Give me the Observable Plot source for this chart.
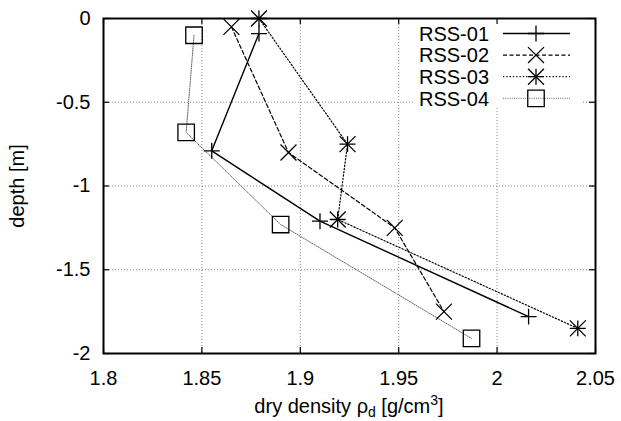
<!DOCTYPE html>
<html><head><meta charset="utf-8">
<script src="https://cdn.jsdelivr.net/npm/d3@7"></script>
<script src="https://cdn.jsdelivr.net/npm/@observablehq/plot@0.6"></script>
<style>
body{margin:0;background:#fff}
svg{font-family:"Liberation Sans",Arial,sans-serif}
</style>
</head><body><div id="chart"></div>
<script>
// ---- data ----
const seriesNames = ["RSS-01", "RSS-02", "RSS-03", "RSS-04"];
const density01 = [1.879, 1.855, 1.910, 2.016];
const depth01   = [-0.09, -0.79, -1.21, -1.78];
const density02 = [1.865, 1.894, 1.948, 1.973];
const depth02   = [-0.05, -0.80, -1.25, -1.75];
const density03 = [1.879, 1.924, 1.919, 2.041];
const depth03   = [0.00, -0.75, -1.20, -1.85];
const density04 = [1.846, 1.842, 1.890, 1.987];
const depth04   = [-0.10, -0.68, -1.23, -1.91];
const xTicks = [1.8, 1.85, 1.9, 1.95, 2, 2.05];
const yTicks = [0, -0.5, -1, -1.5, -2];
const xLabelParts = ["dry density ρ", "d", " [g/cm", "3", "]"];
const yLabel = "depth [m]";

// ---- build ----
const densities = [density01, density02, density03, density04];
const depths = [depth01, depth02, depth03, depth04];
const rows = seriesNames.map((s, i) => densities[i].map((x, j) => ({series: s, x, y: depths[i][j]})));

const W = 621, H = 421, mL = 103, mR = 26, mT = 18, mB = 68;
const fw = W - mL - mR, fh = H - mT - mB;
const FS = 20;

const styles = [
  {stroke: "#000", strokeWidth: 1.4, dash: null},
  {stroke: "#000", strokeWidth: 1.2, dash: "4,2.5"},
  {stroke: "#000", strokeWidth: 1.2, dash: "1.3,2"},
  {stroke: "#666", strokeWidth: 1.0, dash: "1,1.2"}
];
// marker definitions (Plot symbol + radius)
const markerSets = [
  [{symbol: "plus", r: 5.2}],
  [{symbol: "times", r: 7.3}],
  [{symbol: "plus", r: 5.2}, {symbol: "times", r: 7.3}],
  [{symbol: "square", r: 9.3}]
];

const marks = [
  Plot.gridX(xTicks, {stroke: "#888", strokeOpacity: 1, strokeDasharray: "1,2", strokeWidth: 1}),
  Plot.gridY(yTicks, {stroke: "#888", strokeOpacity: 1, strokeDasharray: "1,2", strokeWidth: 1})
];
rows.forEach((r, i) => {
  const st = styles[i];
  marks.push(Plot.line(r, {x: "x", y: "y", stroke: st.stroke, strokeWidth: st.strokeWidth, strokeDasharray: st.dash}));
});
rows.forEach((r, i) => {
  markerSets[i].forEach(m => {
    marks.push(Plot.dot(r, {x: "x", y: "y", symbol: m.symbol, r: m.r, stroke: "#000", fill: "none", strokeWidth: 1.3}));
  });
});
// inward tick marks on all four sides
marks.push(
  Plot.ruleX(xTicks, {x: d => d, insetTop: fh - 6, stroke: "#000", strokeWidth: 1.2}),
  Plot.ruleX(xTicks, {x: d => d, insetBottom: fh - 6, stroke: "#000", strokeWidth: 1.2}),
  Plot.ruleY(yTicks, {y: d => d, insetRight: fw - 6, stroke: "#000", strokeWidth: 1.2}),
  Plot.ruleY(yTicks, {y: d => d, insetLeft: fw - 6, stroke: "#000", strokeWidth: 1.2}),
  Plot.frame({stroke: "#000", strokeWidth: 2}),
  Plot.axisX(xTicks, {tickSize: 0, tickPadding: 17, fontSize: FS, tickFormat: d => String(d), label: null}),
  Plot.axisY(yTicks, {tickSize: 0, tickPadding: 13, fontSize: FS, tickFormat: d => String(d), label: null}),
  Plot.text([yLabel], {frameAnchor: "left", dx: -(mL - 17.5), rotate: -90, fontSize: FS, textAnchor: "middle"})
);

const chart = Plot.plot({
  width: W, height: H,
  marginLeft: mL, marginRight: mR, marginTop: mT, marginBottom: mB,
  x: {domain: [1.8, 2.05]},
  y: {domain: [-2, 0]},
  style: {fontFamily: '"Liberation Sans", Arial, sans-serif', fontSize: FS + "px", color: "#000", background: "#fff"},
  marks
});
document.getElementById("chart").appendChild(chart);

// ---- x label with subscript / superscript ----
const svg = d3.select(chart);
const xl = svg.append("text")
  .attr("x", mL + fw / 2).attr("y", 413)
  .attr("text-anchor", "middle").attr("font-size", FS).attr("fill", "#000");
xl.append("tspan").text(xLabelParts[0]);
xl.append("tspan").attr("dy", 4).attr("font-size", 14).text(xLabelParts[1]);
xl.append("tspan").attr("dy", -4).text(xLabelParts[2]);
xl.append("tspan").attr("dy", -8).attr("font-size", 14).text(xLabelParts[3]);
xl.append("tspan").attr("dy", 8).text(xLabelParts[4]);

// ---- legend (white box over grid, under ticks/frame) ----
const gridNode = chart.querySelector('[aria-label="y-grid"]');
const bg = document.createElementNS("http://www.w3.org/2000/svg", "rect");
bg.setAttribute("x", 413); bg.setAttribute("y", 19.5);
bg.setAttribute("width", 170); bg.setAttribute("height", 88);
bg.setAttribute("fill", "#fff");
if (gridNode) gridNode.after(bg); else chart.appendChild(bg);

const symMap = {plus: d3.symbolPlus, times: d3.symbolTimes, square: d3.symbolSquare};
const lg = svg.append("g");
seriesNames.forEach((name, i) => {
  const yy = 33.5 + i * 21.6;
  const st = styles[i];
  lg.append("text").attr("x", 489).attr("y", yy).attr("dy", "0.36em")
    .attr("text-anchor", "end").attr("font-size", FS).attr("fill", "#000").text(name);
  lg.append("line").attr("x1", 503).attr("x2", 570).attr("y1", yy).attr("y2", yy)
    .attr("stroke", st.stroke).attr("stroke-width", st.strokeWidth)
    .attr("stroke-dasharray", st.dash);
  markerSets[i].forEach(m => {
    lg.append("path").attr("transform", `translate(536,${yy})`)
      .attr("d", d3.symbol(symMap[m.symbol], m.r * m.r * Math.PI)())
      .attr("fill", "none").attr("stroke", "#000").attr("stroke-width", 1.3);
  });
});
</script>
</body></html>
